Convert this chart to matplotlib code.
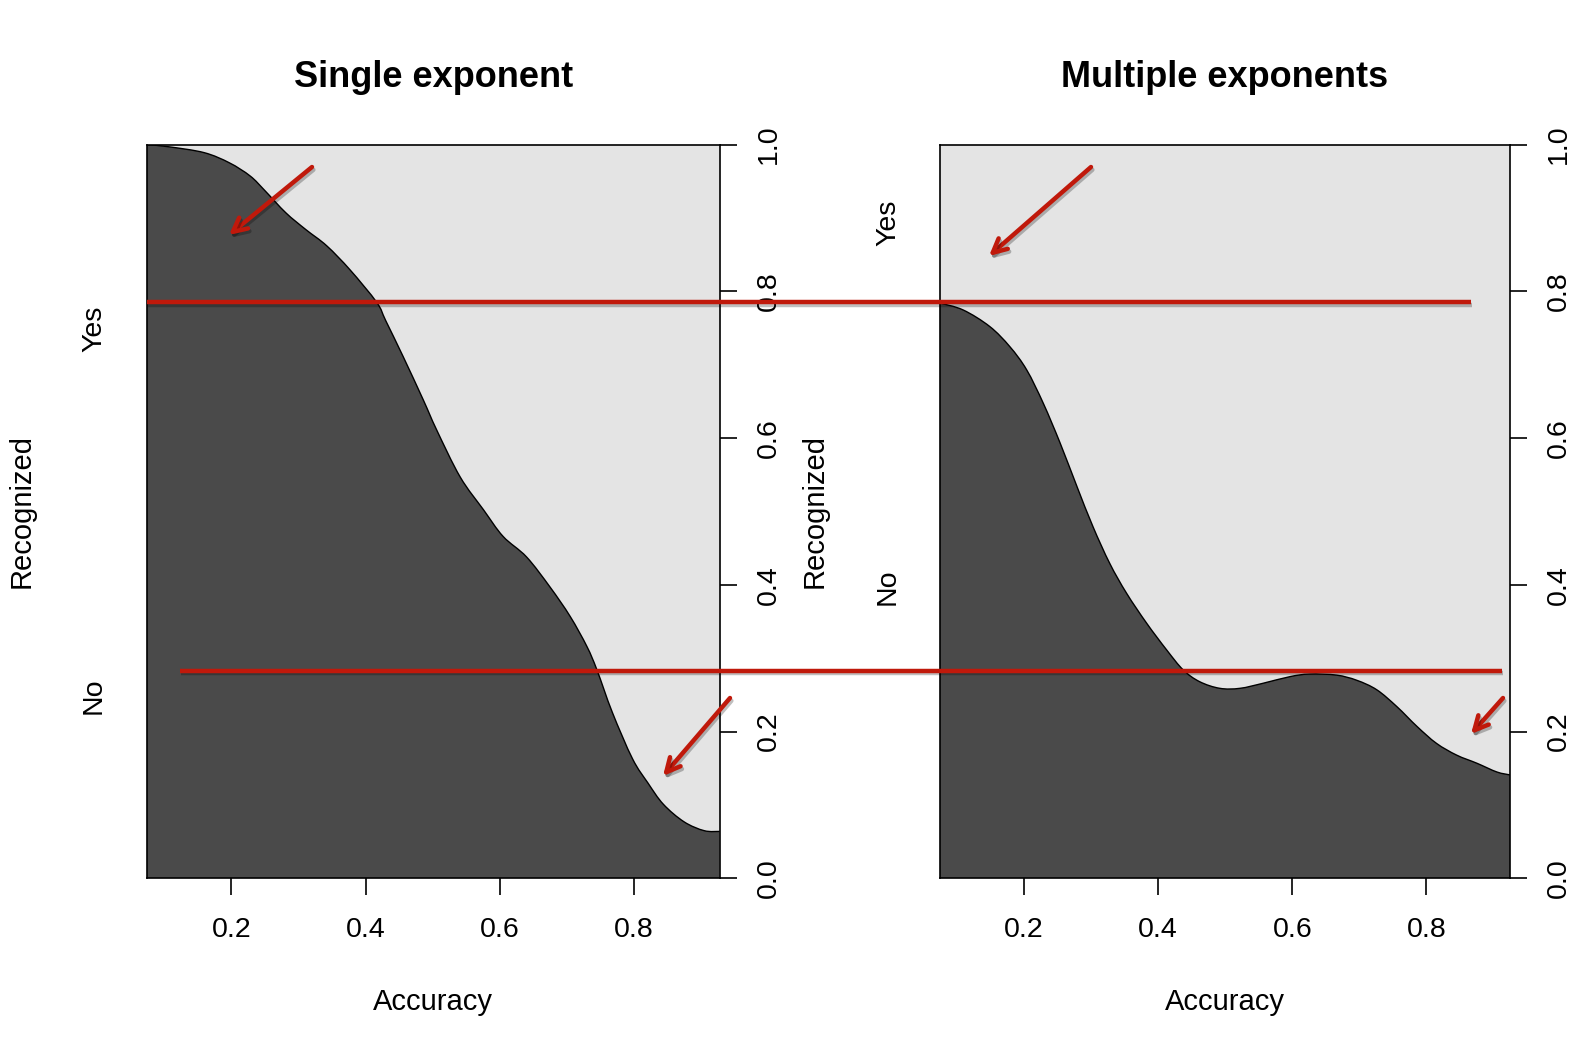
import numpy as np
import matplotlib
matplotlib.use("Agg")
import matplotlib.pyplot as plt
import matplotlib.transforms as mtrans
import matplotlib.patheffects as pe
from matplotlib.path import Path
from matplotlib.patches import PathPatch

plt.rcParams['font.family'] = ['Liberation Sans', 'DejaVu Sans']

# conditional density of "No" (dark area) against accuracy
single_x = [0.0734, 0.106, 0.159, 0.197, 0.228, 0.250, 0.281, 0.311, 0.342, 0.377,
            0.4165, 0.430, 0.456, 0.486, 0.506, 0.541, 0.576, 0.605, 0.640, 0.675,
            0.705, 0.730, 0.745, 0.768, 0.798, 0.821, 0.844, 0.875, 0.905, 0.928]
single_no = [1.0, 0.997, 0.989, 0.975, 0.957, 0.937, 0.907, 0.884, 0.862, 0.829,
             0.785, 0.760, 0.711, 0.652, 0.611, 0.547, 0.502, 0.466, 0.438, 0.397,
             0.357, 0.316, 0.284, 0.226, 0.163, 0.130, 0.101, 0.077, 0.065, 0.064]

multi_x = [0.0748, 0.1095, 0.149, 0.179, 0.204, 0.229, 0.254, 0.279, 0.303, 0.328,
           0.353, 0.383, 0.413, 0.4375, 0.462, 0.492, 0.522, 0.557, 0.597, 0.626,
           0.666, 0.696, 0.726, 0.756, 0.786, 0.815, 0.845, 0.875, 0.905, 0.9246]
multi_no = [0.784, 0.7745, 0.752, 0.7245, 0.693, 0.647, 0.593, 0.534, 0.479, 0.429,
            0.3885, 0.3476, 0.311, 0.284, 0.268, 0.259, 0.259, 0.266, 0.275, 0.2785,
            0.277, 0.270, 0.257, 0.234, 0.207, 0.184, 0.168, 0.157, 0.145, 0.141]

titles = ['Single exponent', 'Multiple exponents']
xticks = [0.2, 0.4, 0.6, 0.8]
yticks = [0.0, 0.2, 0.4, 0.6, 0.8, 1.0]
level_pos = [(0.749, 0.249), (0.894, 0.398)]   # where "Yes"/"No" sit


def smooth_curve(x, y):
    # draw the read points as a smooth bezier path (catmull-rom style)
    p = np.column_stack([x, y])
    verts = [p[0]]
    codes = [Path.MOVETO]
    n = len(p)
    for i in range(n - 1):
        p0 = p[max(i - 1, 0)]
        p1 = p[i]
        p2 = p[i + 1]
        p3 = p[min(i + 2, n - 1)]
        verts += [p1 + (p2 - p0) / 6, p2 - (p3 - p1) / 6, p2]
        codes += [Path.CURVE4] * 3
    return verts, codes


W, H = 1585, 1055
fig = plt.figure(figsize=(W / 100, H / 100), dpi=100)
fig.patch.set_facecolor('white')

boxes = [[146.6 / W, 0.1674, 573.1 / W, 0.6956],
         [940 / W, 0.1674, 570 / W, 0.6956]]
ylab_x = [22 / W, 815 / W]
lev_x = [94 / W, 888 / W]
xs = [single_x, multi_x]
ys = [single_no, multi_no]

for i in range(2):
    ax = fig.add_axes(boxes[i])
    ax.set_facecolor('#e4e4e4')
    x = np.array(xs[i])
    y = np.array(ys[i])
    verts, codes = smooth_curve(x, y)
    area_v = [(x[0], 0)] + verts + [(x[-1], 0), (x[0], 0)]
    area_c = [Path.MOVETO] + [Path.LINETO] + codes[1:] + [Path.LINETO, Path.CLOSEPOLY]
    ax.add_patch(PathPatch(Path(area_v, area_c), facecolor='#4a4a4a', lw=0))
    ax.add_patch(PathPatch(Path(verts, codes), facecolor='none', edgecolor='black', lw=1))
    ax.set_xlim(x[0], x[-1])
    ax.set_ylim(0, 1)
    for s in ax.spines.values():
        s.set_linewidth(1.2)
        s.set_zorder(5)
    ax.set_xticks(xticks)
    ax.set_xticklabels(['0.2', '0.4', '0.6', '0.8'])
    ax.set_yticks(yticks)
    ax.set_yticklabels(['%.1f' % v for v in yticks], rotation=90, va='center')
    ax.yaxis.tick_right()
    ax.tick_params(axis='both', length=12, width=1.2, labelsize=20.5, color='black')
    ax.tick_params(axis='x', pad=16)
    ax.tick_params(axis='y', pad=14)
    fig.text(boxes[i][0] + boxes[i][2] / 2, 0.927, titles[i], ha='center', va='center',
             fontsize=26, fontweight='bold')
    fig.text(boxes[i][0] + boxes[i][2] / 2, 0.05, 'Accuracy', ha='center', va='center',
             fontsize=21)
    tr = mtrans.blended_transform_factory(fig.transFigure, ax.transData)
    ax.text(ylab_x[i], 0.5, 'Recognized', transform=tr, rotation=90, ha='center',
            va='center', fontsize=21, clip_on=False)
    ax.text(lev_x[i], level_pos[i][0], 'Yes', transform=tr, rotation=90, ha='center',
            va='center', fontsize=20.5, clip_on=False)
    ax.text(lev_x[i], level_pos[i][1], 'No', transform=tr, rotation=90, ha='center',
            va='center', fontsize=20.5, clip_on=False)

# red annotation overlay
over = fig.add_axes([0, 0, 1, 1], zorder=10)
over.set_xlim(0, W)
over.set_ylim(H, 0)
over.axis('off')
over.patch.set_alpha(0)
red = '#c0190b'
shadow = [pe.SimpleLineShadow(offset=(1, -2), alpha=0.25), pe.Normal()]
over.plot([146.6, 1471], [302.2, 302.2], color=red, lw=3.2, solid_capstyle='butt',
          path_effects=shadow)
over.plot([180, 1502], [670.5, 670.5], color=red, lw=3.2, solid_capstyle='butt',
          path_effects=shadow)
arrows = [((312, 167), (229, 235)), ((1091, 167), (989, 256)),
          ((730, 698), (663, 776)), ((1503, 698), (1471, 734))]
for tail, head in arrows:
    over.annotate('', xy=head, xytext=tail,
                  arrowprops=dict(arrowstyle='->,head_length=1.0,head_width=0.5',
                                  color=red, lw=3.2, shrinkA=0, shrinkB=0,
                                  path_effects=shadow))

fig.savefig('out.png', dpi=100, facecolor='white')
